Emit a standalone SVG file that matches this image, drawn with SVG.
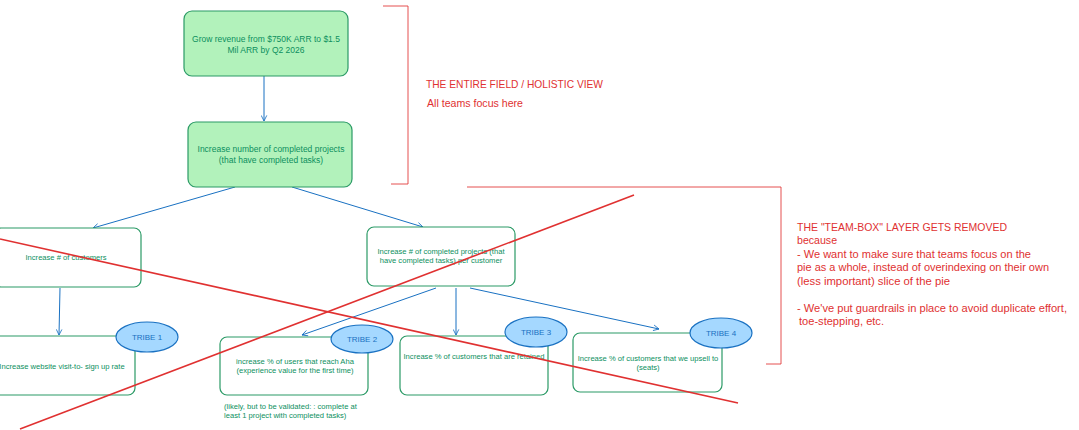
<svg xmlns="http://www.w3.org/2000/svg" width="1079" height="430" viewBox="0 0 1079 430">
<style>
.bg{fill:#ffffff}
.box{fill:#ffffff;stroke:#2b9a66;stroke-width:1.2}
.goal{fill:#b2f2bb;stroke:#2b9a66;stroke-width:1.2}
.t{font-family:"Liberation Sans",Arial,sans-serif;font-size:7.6px;fill:#0c8f5e;text-anchor:middle}
.tg{font-family:"Liberation Sans",Arial,sans-serif;font-size:8.5px;fill:#0c8f5e;text-anchor:middle}
.tl{font-family:"Liberation Sans",Arial,sans-serif;font-size:7.6px;fill:#0c8f5e}
.tribe{fill:#a5d8ff;stroke:#1971c2;stroke-width:1.2}
.tt{font-family:"Liberation Sans",Arial,sans-serif;font-size:8px;fill:#1971c2;text-anchor:middle}
.c{fill:none;stroke:#1971c2;stroke-width:1;marker-end:url(#ah)}
.red{fill:none;stroke:#e03131;stroke-width:1.6}
.brk{fill:none;stroke:#e03131;stroke-width:1;opacity:0.85}
.rt{font-family:"Liberation Sans",Arial,sans-serif;font-size:10.6px;fill:#e03131}
</style>
<defs>
<marker id="ah" viewBox="0 0 10 10" refX="9" refY="5" markerWidth="7" markerHeight="7" orient="auto" markerUnits="userSpaceOnUse">
<path d="M1,1 L9,5 L1,9" fill="none" stroke="#1971c2" stroke-width="1.2"/>
</marker>
</defs>
<rect class="bg" x="0" y="0" width="1079" height="430"/>

<g id="connectors">
<path class="c" d="M264,76 L264,121"/>
<path class="c" d="M235,187 L93,228"/>
<path class="c" d="M292,187 L423,227"/>
<path class="c" d="M60,288 L59,335"/>
<path class="c" d="M436,288 L302,335"/>
<path class="c" d="M456,288 L456,335"/>
<path class="c" d="M470,288 L659,329"/>
</g>

<g id="goal">
<rect class="goal" x="184" y="11" width="164" height="65" rx="8"/>
<text class="tg" x="266" y="42">Grow revenue from $750K ARR to $1.5</text>
<text class="tg" x="266" y="53">Mil ARR by Q2 2026</text>
</g>

<g id="completed-projects">
<rect class="goal" x="188" y="122" width="164" height="65" rx="8"/>
<text class="tg" x="271" y="152">Increase number of completed projects</text>
<text class="tg" x="271" y="163">(that have completed tasks)</text>
</g>

<g id="customers">
<rect class="box" x="-6" y="228" width="147" height="59" rx="7"/>
<text class="t" x="66" y="260">Increase # of customers</text>
</g>

<g id="projects-per-customer">
<rect class="box" x="367" y="227" width="148" height="59" rx="7"/>
<text class="t" x="441" y="254">Increase # of completed projects (that</text>
<text class="t" x="441" y="263">have completed tasks) per customer</text>
</g>

<g id="signup-rate">
<rect class="box" x="-12" y="336" width="147" height="59" rx="7"/>
<text class="t" x="62" y="369">Increase website visit-to- sign up rate</text>
</g>

<g id="aha">
<rect class="box" x="220" y="337" width="148" height="58" rx="7"/>
<text class="t" x="295" y="364">increase % of users that reach Aha</text>
<text class="t" x="295" y="373">(experience value for the first time)</text>
<text class="tl" x="224" y="409">(likely, but to be validated: : complete at</text>
<text class="tl" x="224" y="418">least 1 project with completed tasks)</text>
</g>

<g id="retained">
<rect class="box" x="400" y="336" width="148" height="59" rx="7"/>
<text class="t" x="474" y="359">Increase % of customers that are retained</text>
</g>

<g id="upsell">
<rect class="box" x="573" y="333" width="149" height="59" rx="7"/>
<text class="t" x="648" y="361">Increase % of customers that we upsell to</text>
<text class="t" x="648" y="370">(seats)</text>
</g>

<g id="tribe1">
<ellipse class="tribe" cx="147" cy="337" rx="31" ry="15"/>
<text class="tt" x="147" y="340">TRIBE 1</text>
</g>
<g id="tribe2">
<ellipse class="tribe" cx="362" cy="339" rx="31" ry="14"/>
<text class="tt" x="362" y="342">TRIBE 2</text>
</g>
<g id="tribe3">
<ellipse class="tribe" cx="536" cy="332" rx="31" ry="15"/>
<text class="tt" x="536" y="335">TRIBE 3</text>
</g>
<g id="tribe4">
<ellipse class="tribe" cx="721" cy="333" rx="31" ry="15"/>
<text class="tt" x="721" y="336">TRIBE 4</text>
</g>

<g id="holistic-bracket">
<path class="brk" d="M383,6 L408,6 L408,184 L391,184"/>
<text class="rt" x="426" y="88" textLength="177" lengthAdjust="spacingAndGlyphs">THE ENTIRE FIELD / HOLISTIC VIEW</text>
<text class="rt" x="427" y="107">All teams focus here</text>
</g>

<g id="team-box-bracket">
<path class="brk" d="M467,187 L781,187 L781,364 L766,364"/>
<text class="rt" x="797" y="231" textLength="210" lengthAdjust="spacingAndGlyphs">THE "TEAM-BOX" LAYER GETS REMOVED</text>
<text class="rt" x="797" y="244">because</text>
<text class="rt" x="797" y="258" textLength="234" lengthAdjust="spacingAndGlyphs">- We want to make sure that teams focus on the</text>
<text class="rt" x="797" y="271" textLength="252" lengthAdjust="spacingAndGlyphs">pie as a whole, instead of overindexing on their own</text>
<text class="rt" x="797" y="285" textLength="153" lengthAdjust="spacingAndGlyphs">(less important)  slice of the pie</text>
<text class="rt" x="797" y="312" textLength="270" lengthAdjust="spacingAndGlyphs">- We've put guardrails in place to avoid duplicate effort,</text>
<text class="rt" x="799" y="325" textLength="85" lengthAdjust="spacingAndGlyphs">toe-stepping, etc.</text>
</g>

<g id="cross">
<path class="red" d="M0,239 L738,403"/>
<path class="red" d="M20,429 L634,195"/>
</g>
</svg>
